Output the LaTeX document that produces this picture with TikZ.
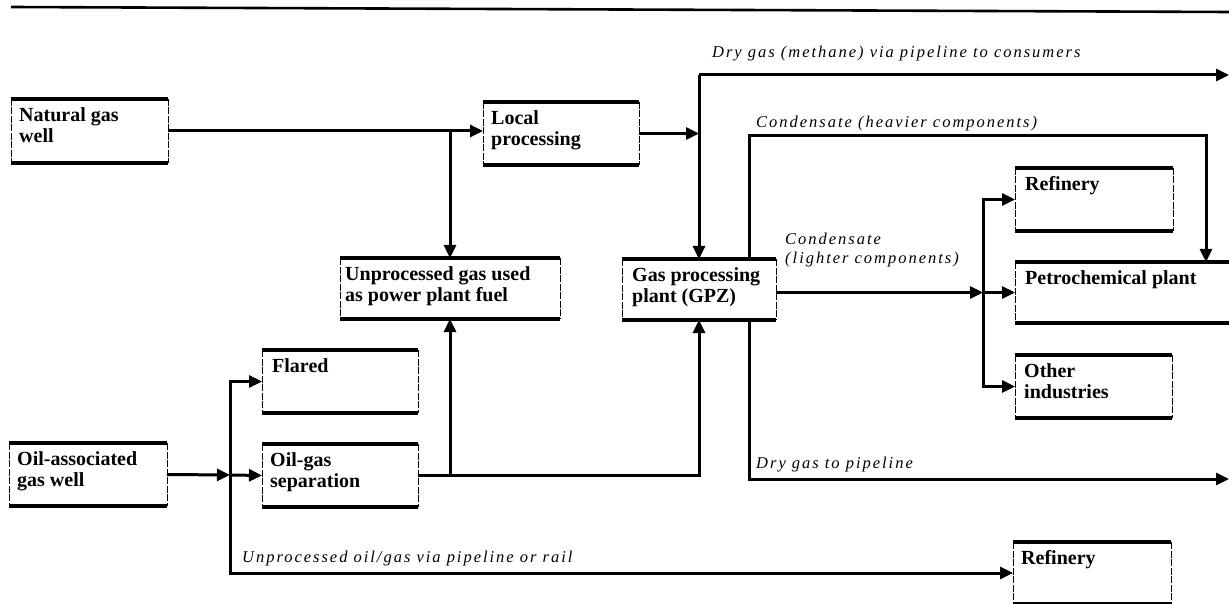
\documentclass[tikz,border=0pt]{standalone}
\usepackage{fontspec}
\setmainfont{Liberation Serif}
\usetikzlibrary{arrows.meta}
\newcommand{\boxrims}[1]% node name
{\draw[rim] (#1.north west) -- (#1.north east) (#1.south west) -- (#1.south east);
 \draw[side] (#1.north west) -- (#1.south west) (#1.north east) -- (#1.south east);
}
\tikzset{
  flow/.style={line width=3pt,-{Triangle[length=13pt,width=12pt]}},
  rim/.style={line width=3.2pt},
  side/.style={line width=0.7pt,dash pattern=on 7pt off 1.5pt},
  plant/.style={anchor=north west,inner sep=0pt,outer sep=0pt},
  boxtext/.style={anchor=north west,align=left,inner sep=8pt,font=\fontsize{20}{21}\selectfont\bfseries},
  flowtext/.style={anchor=base west,inner sep=0pt,font=\fontsize{16.5}{20}\selectfont\itshape\addfontfeatures{LetterSpace=12}},
}

\begin{document}
\begin{tikzpicture}[x=1pt,y=-1pt]
\useasboundingbox (0,0) rectangle (1229,604);
\clip (0,0) rectangle (1229,604);
\draw[line width=2.6pt] (11,7) -- (1229,12);
% boxes
\node[plant,minimum width=157,minimum height=64,label={[boxtext]north west:Natural gas\\well}] (gaswell) at (11,99) {};
\node[plant,minimum width=156,minimum height=63,label={[boxtext]north west:Local\\processing}] (localproc) at (483,102) {};
\node[plant,minimum width=220,minimum height=61,label={[boxtext,inner xsep=5pt]north west:Unprocessed gas used\\as power plant fuel}] (powerfuel) at (340,258) {};
\node[plant,minimum width=154,minimum height=61,label={[boxtext,inner xsep=10pt]north west:Gas processing\\plant (GPZ)}] (gpz) at (622,259) {};
\node[plant,minimum width=158,minimum height=63,label={[boxtext,inner xsep=10pt]north west:Refinery}] (refinery) at (1015,168) {};
\node[plant,minimum width=230,minimum height=61,label={[boxtext,inner xsep=10pt]north west:Petrochemical plant}] (petrochem) at (1015,262) {};
\node[plant,minimum width=157,minimum height=63,label={[boxtext,inner xsep=9pt]north west:Other\\industries}] (otherind) at (1015,355) {};
\node[plant,minimum width=156,minimum height=63,label={[boxtext,inner xsep=10pt]north west:Flared}] (flared) at (262,350) {};
\node[plant,minimum width=156,minimum height=63,label={[boxtext]north west:Oil-gas\\separation}] (oilsep) at (262,444) {};
\node[plant,minimum width=158,minimum height=63,label={[boxtext]north west:Oil-associated\\gas well}] (oilwell) at (9,443) {};
\node[plant,minimum width=158,minimum height=62,label={[boxtext,inner xsep=8pt]north west:Refinery}] (refinery2) at (1013,542) {};
\foreach \b in {gaswell,localproc,powerfuel,gpz,refinery,petrochem,otherind,flared,oilsep,oilwell,refinery2}
  {\boxrims{\b}}
% branch points and free ends
\coordinate (drytop) at (699,75);
\coordinate (dryend) at (1229,75);
\coordinate (heavy) at (749,136);
\coordinate (lightfork) at (983,292.5);
\coordinate (drylow) at (749,479);
\coordinate (drylowend) at (1229,479);
\coordinate (oilfork) at (230,475);
% flows
\draw[flow] (gaswell.east) -- (gaswell.east -| localproc.west);
\draw[flow] (gaswell.east -| powerfuel.north) -- (powerfuel.north);
\draw[flow] (localproc.east) -- (localproc.east -| drytop);
\draw[flow] (drytop) -- (drytop |- gpz.north);
\draw[flow] (drytop) -- (dryend);
\draw[flow] (heavy |- gpz.north) -- (heavy) -| ([xshift=191pt]petrochem.north west);
\draw[flow] (gpz.east |- lightfork) -- (lightfork);
\draw[flow] (lightfork) -- (petrochem.west);
\draw[flow] (lightfork) |- (refinery.west);
\draw[flow] (lightfork) |- (otherind.west);
\draw[flow] (drylow |- gpz.south) -- (drylow) -- (drylowend);
\draw[flow] (oilsep.east) -| (gpz.south);
\draw[flow] (oilsep.east -| powerfuel.south) -- (powerfuel.south);
\draw[flow] (oilwell.east) -- (oilfork);
\draw[flow] (oilfork) -- (oilsep.west);
\draw[flow] (oilfork) |- (flared.west);
\draw[flow] (oilfork) |- (refinery2.west);
% flow labels
\node[flowtext] (drylabel) at (712,58) {Dry gas (methane) via pipeline to consumers};
\node[flowtext] (heavylabel) at (756,128) {Condensate (heavier components)};
\node[flowtext,align=left] (lightlabel) at (785,263) {Condensate\\[-1pt](lighter components)};
\node[flowtext] (drylowlabel) at (756,468) {Dry gas to pipeline};
\node[flowtext] (oillabel) at (242,562) {Unprocessed oil/gas via pipeline or rail};
\end{tikzpicture}
\end{document}
